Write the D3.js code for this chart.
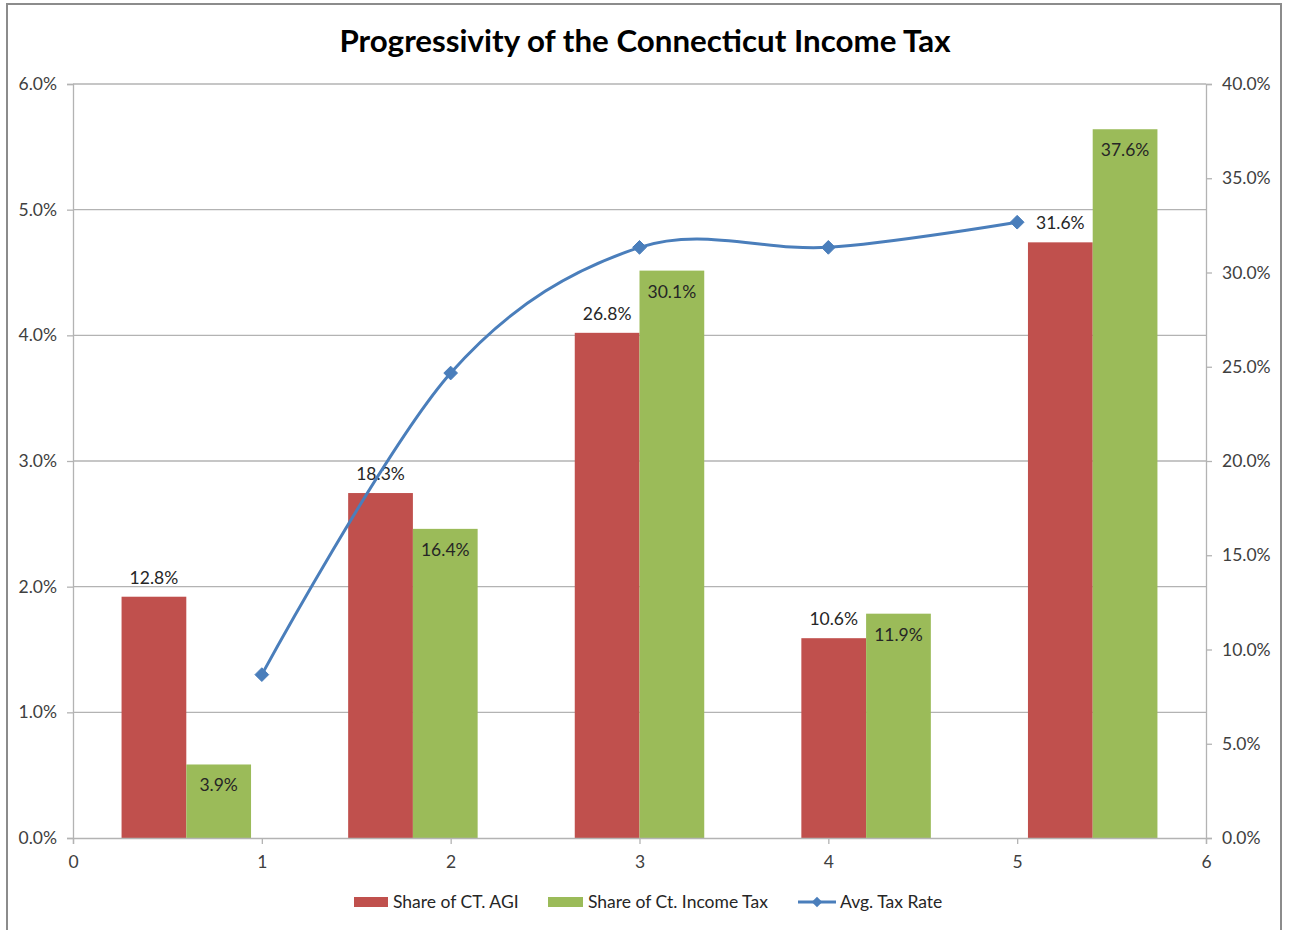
<!DOCTYPE html>
<html>
<head>
<meta charset="utf-8">
<script src="https://cdn.jsdelivr.net/npm/d3@7"></script>
<style>
  html, body { margin: 0; padding: 0; background: #fff; }
  svg { display: block; }
  text { font-family: Lato, "Open Sans", "Liberation Sans", sans-serif; }
</style>
</head>
<body>
<svg id="chart" width="1289" height="930"></svg>
<script>
// Income groups (bar clusters) and the numeric x positions of the rate line
const categories = [1, 2, 3, 4, 5];
const agiShare = [12.8, 18.3, 26.8, 10.6, 31.6];      // % of CT AGI (right axis)
const taxShare = [3.9, 16.4, 30.1, 11.9, 37.6];       // % of CT income tax (right axis)
const rateX = [1, 2, 3, 4, 5];
const avgRate = [1.3, 3.7, 4.7, 4.7, 4.9];            // average tax rate (left axis)
const leftTicks = [0, 1, 2, 3, 4, 5, 6];
const rightTicks = [0, 5, 10, 15, 20, 25, 30, 35, 40];
const xTicks = [0, 1, 2, 3, 4, 5, 6];
const seriesNames = ["Share of CT. AGI", "Share of Ct. Income Tax", "Avg. Tax Rate"];
const colors = { agi: "#C0504D", tax: "#9BBB59", rate: "#4A7EBB" };

const svg = d3.select("#chart");
const plot = { left: 73, right: 1206, top: 84, bottom: 838 };
const fs = 17.5;

// chart frame
svg.append("rect")
  .attr("x", 7).attr("y", 4).attr("width", 1274).attr("height", 940)
  .attr("fill", "#fff").attr("stroke", "#8c8c8c").attr("stroke-width", 2);

// title
svg.append("text")
  .attr("x", 645).attr("y", 52)
  .attr("text-anchor", "middle")
  .attr("font-size", 31.3).attr("font-weight", "bold").attr("fill", "#000")
  .text("Progressivity of the Connecticut Income Tax");

const x = d3.scaleLinear().domain([0, 6]).range([plot.left, plot.right]);
const yL = d3.scaleLinear().domain([0, 6]).range([plot.bottom, plot.top]);
const yR = d3.scaleLinear().domain([0, 40]).range([plot.bottom, plot.top]);

const band = d3.scaleBand().domain(categories).range([x(0), x(6)]).padding(0);
const inner = d3.scaleBand().domain(["agi", "tax"]).range([0, band.bandwidth()])
  .paddingInner(0).paddingOuter(0.75);

const pct = d => d.toFixed(1) + "%";
const axisColor = "#B3B3B3";
const tickText = "#404040";

// gridlines
svg.append("g").selectAll("line").data(leftTicks.slice(1)).join("line")
  .attr("x1", plot.left).attr("x2", plot.right)
  .attr("y1", d => yL(d)).attr("y2", d => yL(d))
  .attr("stroke", axisColor).attr("stroke-width", 1.3);

function styleAxis(g) {
  g.select(".domain").attr("stroke", axisColor).attr("stroke-width", 1.3);
  g.selectAll(".tick line").attr("stroke", axisColor).attr("stroke-width", 1.3);
  g.selectAll(".tick text").attr("fill", tickText).attr("font-size", fs)
    .attr("font-family", "Lato, 'Open Sans', sans-serif");
}

svg.append("g").attr("transform", `translate(${plot.left},0)`)
  .call(d3.axisLeft(yL).tickValues(leftTicks).tickFormat(pct).tickSizeOuter(0).tickSize(6).tickPadding(10))
  .call(styleAxis);

svg.append("g").attr("transform", `translate(${plot.right},0)`)
  .call(d3.axisRight(yR).tickValues(rightTicks).tickFormat(pct).tickSizeOuter(0).tickSize(6).tickPadding(10))
  .call(styleAxis);

// bars
const groups = svg.append("g").selectAll("g").data(categories).join("g")
  .attr("transform", d => `translate(${band(d)},0)`);

groups.append("rect")
  .attr("x", inner("agi")).attr("width", inner.bandwidth())
  .attr("y", (d, i) => yR(agiShare[i]))
  .attr("height", (d, i) => yR(0) - yR(agiShare[i]))
  .attr("fill", colors.agi);

groups.append("rect")
  .attr("x", inner("tax")).attr("width", inner.bandwidth())
  .attr("y", (d, i) => yR(taxShare[i]))
  .attr("height", (d, i) => yR(0) - yR(taxShare[i]))
  .attr("fill", colors.tax);

// bottom axis drawn above bars
svg.append("g").attr("transform", `translate(0,${plot.bottom})`)
  .call(d3.axisBottom(x).tickValues(xTicks).tickFormat(d3.format("d")).tickSizeOuter(0).tickSize(6).tickPadding(12))
  .call(styleAxis);

// bar labels: AGI above the bar, tax share inside the top
groups.append("text")
  .attr("x", inner("agi") + inner.bandwidth() / 2)
  .attr("y", (d, i) => yR(agiShare[i]) - 13)
  .attr("text-anchor", "middle").attr("font-size", fs).attr("fill", "#262626")
  .text((d, i) => pct(agiShare[i]));

groups.append("text")
  .attr("x", inner("tax") + inner.bandwidth() / 2)
  .attr("y", (d, i) => yR(taxShare[i]) + 27)
  .attr("text-anchor", "middle").attr("font-size", fs).attr("fill", "#262626")
  .text((d, i) => pct(taxShare[i]));

// average tax rate line
const pts = rateX.map((v, i) => [x(v), yL(avgRate[i])]);
svg.append("path")
  .attr("d", d3.line().curve(d3.curveCardinal.tension(0))(pts))
  .attr("fill", "none").attr("stroke", colors.rate).attr("stroke-width", 3);

const diamond = d3.symbol().type(d3.symbolDiamond2).size(120);
svg.append("g").selectAll("path").data(pts).join("path")
  .attr("transform", d => `translate(${d[0]},${d[1]})`)
  .attr("d", diamond)
  .attr("fill", colors.rate).attr("stroke", colors.rate).attr("stroke-width", 1);

// legend
const legend = svg.append("g").attr("font-size", fs).attr("fill", "#262626");
const ly = 902;
legend.append("rect").attr("x", 354).attr("y", ly - 5).attr("width", 34).attr("height", 10).attr("fill", colors.agi);
legend.append("text").attr("x", 393).attr("y", ly + 6).text(seriesNames[0]);
legend.append("rect").attr("x", 548).attr("y", ly - 5).attr("width", 35).attr("height", 10).attr("fill", colors.tax);
legend.append("text").attr("x", 588).attr("y", ly + 6).text(seriesNames[1]);
legend.append("line").attr("x1", 798).attr("x2", 836).attr("y1", ly).attr("y2", ly)
  .attr("stroke", colors.rate).attr("stroke-width", 3);
legend.append("path").attr("transform", `translate(817,${ly})`)
  .attr("d", d3.symbol().type(d3.symbolDiamond2).size(70)).attr("fill", colors.rate);
legend.append("text").attr("x", 840).attr("y", ly + 6).text(seriesNames[2]);
</script>
</body>
</html>
